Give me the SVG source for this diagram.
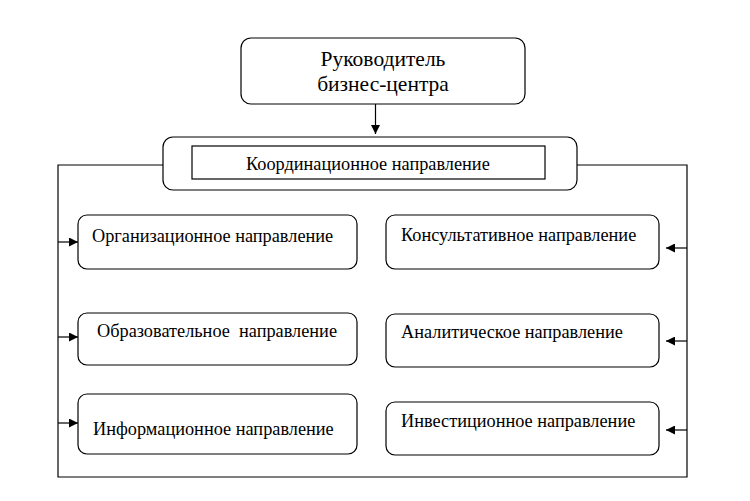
<svg xmlns="http://www.w3.org/2000/svg" width="750" height="501" viewBox="0 0 750 501">
<defs>
<style>
.box{fill:#fff;stroke:#000;stroke-width:1.2}
.ln{fill:none;stroke:#000;stroke-width:1.2}
text{font-family:'Liberation Serif','Times New Roman',serif;fill:#000}
.t{font-size:18.3px}
.tt{font-size:21.5px}
</style>
<marker id="ah" viewBox="0 0 10 10" refX="10" refY="5" markerWidth="9" markerHeight="9" markerUnits="userSpaceOnUse" orient="auto">
<path d="M0,0 L10,5 L0,10 z" fill="#000"/>
</marker>
</defs>
<rect width="750" height="501" fill="#fff"/>
<g id="connectors">
<line class="ln" x1="375.5" y1="104" x2="375.5" y2="134" marker-end="url(#ah)"/>
<polyline class="ln" points="163,165 58,165 58,477 687,477 687,165 577,165"/>
<line class="ln" x1="58" y1="242" x2="78" y2="242" marker-end="url(#ah)"/>
<line class="ln" x1="58" y1="337" x2="78" y2="337" marker-end="url(#ah)"/>
<line class="ln" x1="58" y1="423" x2="78" y2="423" marker-end="url(#ah)"/>
<line class="ln" x1="687" y1="248" x2="666" y2="248" marker-end="url(#ah)"/>
<line class="ln" x1="687" y1="341" x2="666" y2="341" marker-end="url(#ah)"/>
<line class="ln" x1="687" y1="430" x2="666" y2="430" marker-end="url(#ah)"/>
</g>
<g id="head">
<rect class="box" x="241" y="38" width="284" height="66" rx="10"/>
<text class="tt" x="383" y="66" text-anchor="middle">Руководитель</text>
<text class="tt" x="383" y="91" text-anchor="middle">бизнес-центра</text>
</g>
<g id="coord">
<rect class="box" x="163" y="137" width="414" height="53" rx="10"/>
<rect class="box" x="192" y="146" width="353" height="33"/>
<text class="t" x="246" y="170">Координационное направление</text>
</g>
<g id="org">
<rect class="box" x="78" y="215" width="279" height="54" rx="9"/>
<text class="t" x="92" y="242">Организационное направление</text>
</g>
<g id="edu">
<rect class="box" x="78" y="313" width="279" height="52" rx="9"/>
<text class="t" x="97" y="337" xml:space="preserve">Образовательное  направление</text>
</g>
<g id="info">
<rect class="box" x="78" y="394" width="279" height="60" rx="9"/>
<text class="t" x="93" y="435">Информационное направление</text>
</g>
<g id="cons">
<rect class="box" x="386" y="215" width="273" height="54" rx="9"/>
<text class="t" x="401" y="241">Консультативное направление</text>
</g>
<g id="anal">
<rect class="box" x="386" y="314" width="273" height="53" rx="9"/>
<text class="t" x="401" y="338">Аналитическое направление</text>
</g>
<g id="inv">
<rect class="box" x="386" y="402" width="273" height="53" rx="9"/>
<text class="t" x="401" y="427">Инвестиционное направление</text>
</g>
</svg>
